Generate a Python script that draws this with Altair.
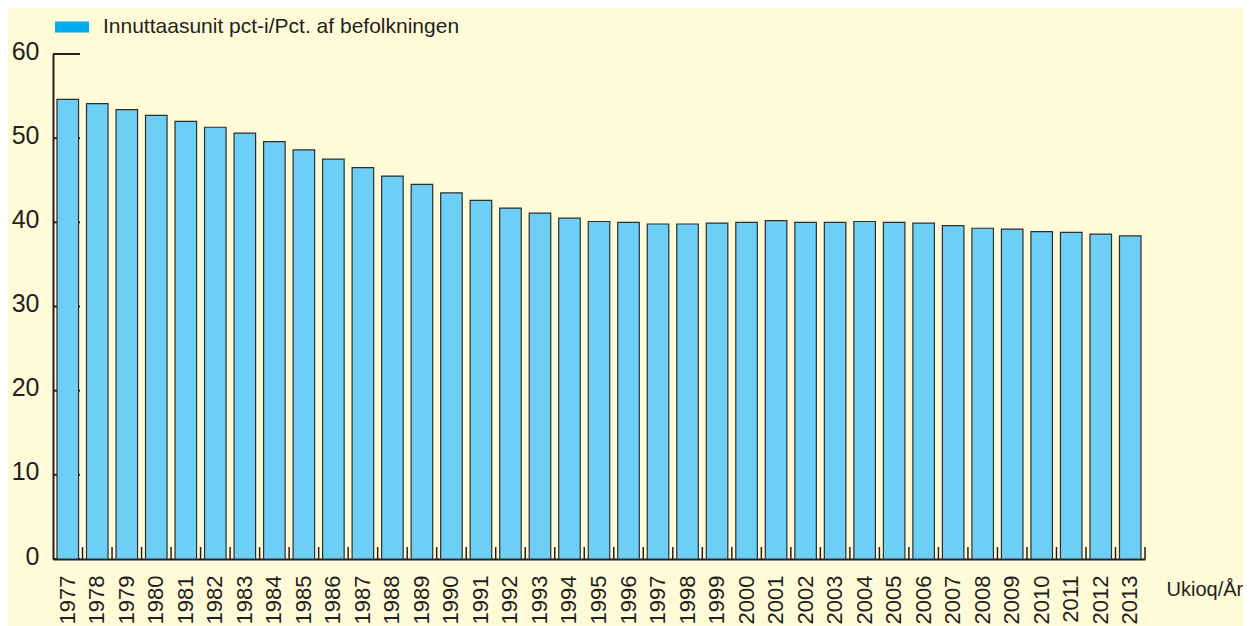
import altair as alt
import pandas as pd

# ---- data ----
years = ["1977", "1978", "1979", "1980", "1981", "1982", "1983", "1984", "1985",
         "1986", "1987", "1988", "1989", "1990", "1991", "1992", "1993", "1994",
         "1995", "1996", "1997", "1998", "1999", "2000", "2001", "2002", "2003",
         "2004", "2005", "2006", "2007", "2008", "2009", "2010", "2011", "2012",
         "2013"]
values = [54.6, 54.1, 53.4, 52.7, 52.0, 51.3, 50.6, 49.6, 48.6,
          47.5, 46.5, 45.5, 44.5, 43.5, 42.6, 41.7, 41.1, 40.5,
          40.1, 40.0, 39.8, 39.8, 39.9, 40.0, 40.2, 40.0, 40.0,
          40.1, 40.0, 39.9, 39.6, 39.3, 39.2, 38.9, 38.8, 38.6,
          38.4]
y_ticks = [0, 10, 20, 30, 40, 50, 60]
legend_label = "Innuttaasunit pct-i/Pct. af befolkningen"
x_title = "Ukioq/År"

W, H = 1092, 505
FONT = "Liberation Sans"
INK = "#231f20"

df = pd.DataFrame({"year": years, "value": values})
ticks_df = pd.DataFrame({"value": y_ticks})
legend_df = pd.DataFrame({"series": [legend_label]})

xscale = alt.Scale(paddingInner=0.27, paddingOuter=0.135)
yscale = alt.Scale(domain=[0, 60], nice=False, zero=True)

# inward y ticks (drawn behind bars)
ytick_layer = alt.Chart(ticks_df).mark_rule(color=INK, strokeWidth=2).encode(
    y=alt.Y("value:Q", scale=yscale),
    x=alt.value(0),
    x2=alt.value(27),
)

bars = alt.Chart(df).mark_bar(
    fill="#6dcff6", stroke="#2e2e2e", strokeWidth=1.2
).encode(
    x=alt.X(
        "year:N",
        sort=None,
        scale=xscale,
        axis=alt.Axis(
            title=x_title,
            titleFont=FONT,
            titleFontSize=20,
            titleFontWeight="normal",
            titleColor=INK,
            titleAlign="left",
            titleBaseline="middle",
            titleAnchor="start",
            titleX=W + 21,
            titleY=30,
            labelAngle=270,
            labelFont=FONT,
            labelFontSize=22,
            labelColor=INK,
            labelPadding=16,
            ticks=False,
            domainColor=INK,
            domainWidth=2,
            grid=False,
        ),
    ),
    y=alt.Y(
        "value:Q",
        scale=yscale,
        axis=alt.Axis(
            title=None,
            values=y_ticks,
            labelFont=FONT,
            labelFontSize=25,
            labelColor=INK,
            labelPadding=14,
            labelOffset=-3,
            ticks=False,
            domainColor=INK,
            domainWidth=2,
            grid=False,
        ),
    ),
)

# zero-size helper mark that only carries the legend
legend_layer = alt.Chart(legend_df).mark_bar(strokeWidth=0).encode(
    color=alt.Color(
        "series:N",
        scale=alt.Scale(range=["#00aeef"]),
        legend=alt.Legend(
            title=None,
            orient="none",
            legendX=2,
            legendY=-44,
            symbolType="M-1,-0.32H1V0.32H-1Z",
            symbolSize=1156,
            symbolStrokeWidth=0,
            symbolOpacity=1,
            labelFont=FONT,
            labelFontSize=21,
            labelColor=INK,
            labelOffset=14,
            labelLimit=800,
            padding=0,
        ),
    ),
    x=alt.value(0),
    x2=alt.value(0),
    y=alt.value(0),
    y2=alt.value(0),
)

# x ticks between bars, pointing up
xtick_layer = alt.Chart(df).mark_rule(color=INK, strokeWidth=1.5, xOffset=4).encode(
    x=alt.X("year:N", sort=None, bandPosition=1),
    y=alt.value(H - 12),
    y2=alt.value(H),
)

chart = (
    alt.layer(ytick_layer, bars, xtick_layer, legend_layer)
    .properties(
        width=W,
        height=H,
        background="#fffad7",
        padding={"left": 3, "top": 2, "right": 0, "bottom": 4},
    )
    .configure_view(stroke=None)
)

chart.save("out.html", embed_options={"renderer": "svg", "actions": False})
